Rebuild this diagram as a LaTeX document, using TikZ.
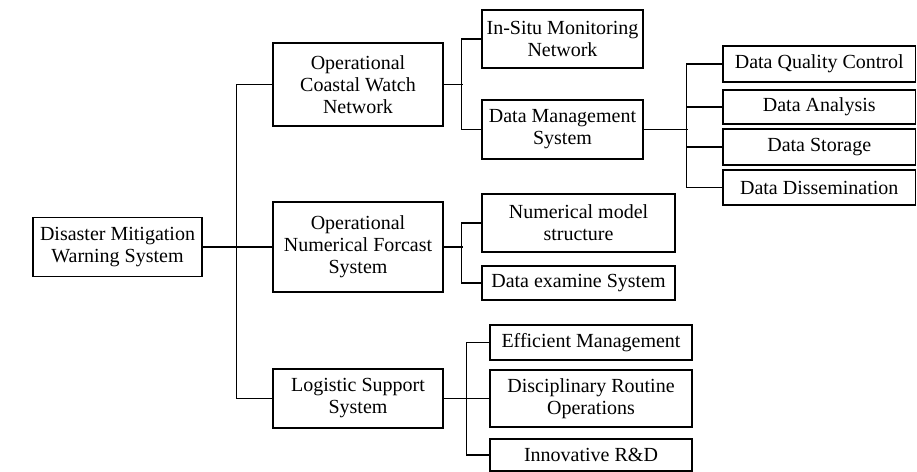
\documentclass[tikz,border=0pt]{standalone}
\usepackage{fontspec}
\setmainfont{Liberation Serif}
\begin{document}
\begin{tikzpicture}[x=1pt,y=-1pt,
  box/.style={draw,line width=1.1pt,align=center,inner sep=0pt,
    font=\fontsize{20}{22}\selectfont},
  link/.style={line width=1.3pt}]
\useasboundingbox (0,0) rectangle (917,471);
% level 0
\node[box,minimum width=169pt,minimum height=59pt] (root) at (117.5,247) {Disaster Mitigation\\Warning System};
% level 1
\node[box,minimum width=170pt,minimum height=83pt] (cwn) at (358,84.5) {Operational\\Coastal Watch\\Network};
\node[box,minimum width=170pt,minimum height=90pt] (onfs) at (358,247) {Operational\\Numerical Forcast\\System};
\node[box,minimum width=170pt,minimum height=59pt] (lss) at (358,398.5) {Logistic Support\\System};
% level 2
\node[box,minimum width=161pt,minimum height=58pt] (insitu) at (562.5,39) {In-Situ Monitoring\\Network};
\node[box,minimum width=161pt,minimum height=59pt] (dms) at (562.5,129.5) {Data Management\\System};
\node[box,minimum width=193pt,minimum height=58pt] (nms) at (578.5,223) {Numerical model\\structure};
\node[box,minimum width=193pt,minimum height=34pt] (des) at (578.5,283) {Data examine System};
\node[box,minimum width=202pt,minimum height=35pt] (em) at (591,342.5) {Efficient Management};
\node[box,minimum width=202pt,minimum height=57pt] (dro) at (591,398.5) {Disciplinary Routine\\Operations};
\node[box,minimum width=202pt,minimum height=32pt] (ird) at (591,455) {Innovative R\&D};
% level 3
\node[box,minimum width=192.5pt,minimum height=36pt] (dqc) at (819.25,64) {Data Quality Control};
\node[box,minimum width=192.5pt,minimum height=34pt] (da) at (819.25,107) {Data Analysis};
\node[box,minimum width=192.5pt,minimum height=36pt] (ds) at (819.25,147) {Data Storage};
\node[box,minimum width=192.5pt,minimum height=35pt] (dd) at (819.25,187.5) {Data Dissemination};
% connectors level 0-1
\draw[link] (root.east) -- (onfs.west);
\draw[link] (cwn.west) -- ++(-36,0) |- (lss.west);
% CWN branch
\draw[link] (cwn.east) -- ++(19,0);
\draw[link] (insitu.west) -- ++(-20,0) |- (dms.west);
% DMS branch
\draw[link] (dms.east) -- ++(44,0);
\draw[link] (dqc.west) -- ++(-36,0) |- (dd.west);
\draw[link] (da.west) -- ++(-36,0);
\draw[link] (ds.west) -- ++(-36,0);
% ONFS branch
\draw[link] (onfs.east) -- ++(19,0);
\draw[link] (nms.west) -- ++(-20,0) |- (des.west);
% LSS branch
\draw[link] (lss.east) -- (dro.west);
\draw[link] (em.west) -- ++(-23,0) |- (ird.west);
\end{tikzpicture}
\end{document}
